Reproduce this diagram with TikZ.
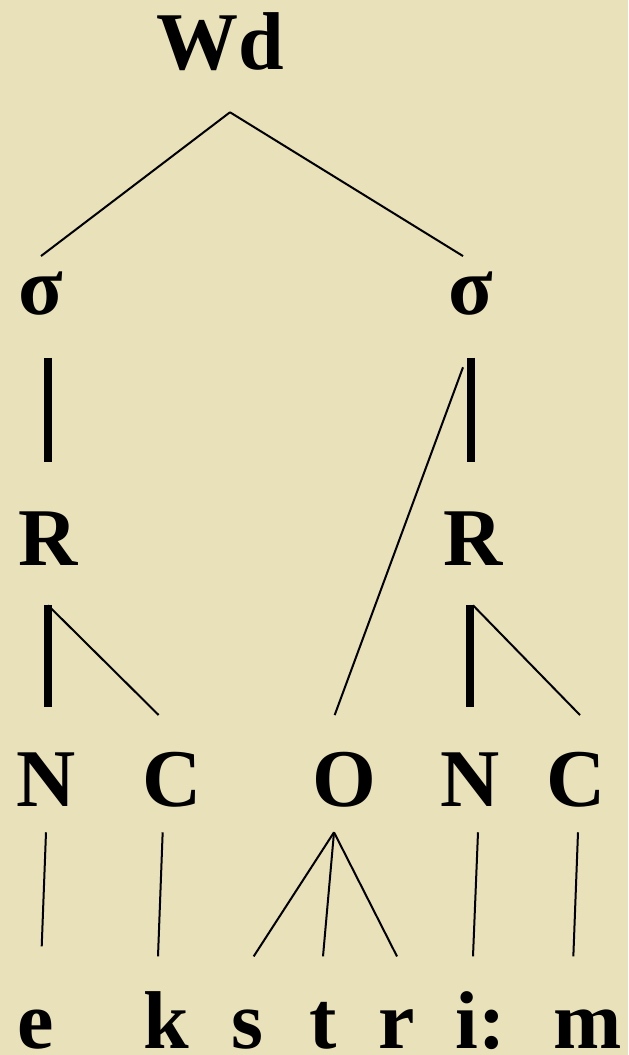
\documentclass[tikz,border=0pt]{standalone}
\usepackage{fontspec}
\setmainfont{Liberation Serif}
\definecolor{paperBeige}{HTML}{E8E1B9}
\newcommand{\segfont}{\fontsize{61.5pt}{70pt}\selectfont\bfseries}

\begin{document}
\begin{tikzpicture}[x=0.75pt, y=-0.75pt,
    seg/.style 2 args={inner sep=0pt, anchor=base, font=\segfont,
                       text height=#1, text depth=#2},
    branch/.style={line width=1.5pt},
    stem/.style={line width=6pt}]
  \fill[paperBeige] (0,0) rectangle (628,1055);

  \node[seg={41pt}{31.5pt}] (wd) at (220,70) {Wd};
  \node[seg={44pt}{32pt}] (sigL) at (41,315) {σ};
  \node[seg={44pt}{32pt}] (sigR) at (471,315) {σ};
  \node[seg={77pt}{30pt}] (rhL) at (48,565) {R};
  \node[seg={77pt}{30pt}] (rhR) at (473,565) {R};
  \node[seg={68pt}{19.5pt}] (nucL) at (46,806) {N};
  \node[seg={68pt}{19.5pt}] (codL) at (172,806) {C};
  \node[seg={68pt}{19.5pt}] (ons) at (344,806) {O};
  \node[seg={68pt}{19.5pt}] (nucR) at (470,806) {N};
  \node[seg={68pt}{19.5pt}] (codR) at (576,806) {C};
  \node[seg={68.5pt}{0pt}] (e) at (36,1048) {e};
  \node[seg={68.5pt}{0pt}] (k) at (166,1048) {k};
  \node[seg={68.5pt}{0pt}] (s) at (247,1048) {s};
  \node[seg={68.5pt}{0pt}] (t) at (323,1048) {t};
  \node[seg={68.5pt}{0pt}] (r) at (397,1048) {r};
  \node[seg={68.5pt}{0pt}] (i) at (481,1048) {i:};
  \node[seg={68.5pt}{0pt}] (m) at (588,1048) {m};

  \draw[branch] ([xshift=7.5pt]wd.south) -- (sigL.north);
  \draw[branch] ([xshift=7.5pt]wd.south) -- ([xshift=-6pt]sigR.north);
  \draw[stem] (sigL.south -| rhL.north) -- (rhL.north);
  \draw[stem] (sigR.south) -- (sigR.south |- rhR.north);
  \draw[branch] ([xshift=-6pt, yshift=-7pt]sigR.south) -- ([xshift=-7pt]ons.north);
  \draw[stem, shorten >=6pt] (rhL.south) -- (rhL.south |- nucL.north);
  \draw[branch] (rhL.south) -- ([xshift=-10pt]codL.north);
  \draw[stem, shorten >=6pt] (rhR.south -| nucR.north) -- (nucR.north);
  \draw[branch] (rhR.south) -- ([xshift=3pt]codR.north);
  \draw[branch, shorten >=7.5pt] (nucL.south) -- ([xshift=4pt]e.north);
  \draw[branch] ([xshift=-7pt]codL.south) -- ([xshift=-6pt]k.north);
  \draw[branch] ([xshift=-7.5pt]ons.south) -- ([xshift=5pt]s.north);
  \draw[branch] ([xshift=-7.5pt]ons.south) -- (t.north);
  \draw[branch] ([xshift=-7.5pt]ons.south) -- (r.north);
  \draw[branch] ([xshift=6pt]nucR.south) -- ([xshift=-6pt]i.north);
  \draw[branch] ([xshift=1.5pt]codR.south) -- ([xshift=-11pt]m.north);
\end{tikzpicture}
\end{document}
